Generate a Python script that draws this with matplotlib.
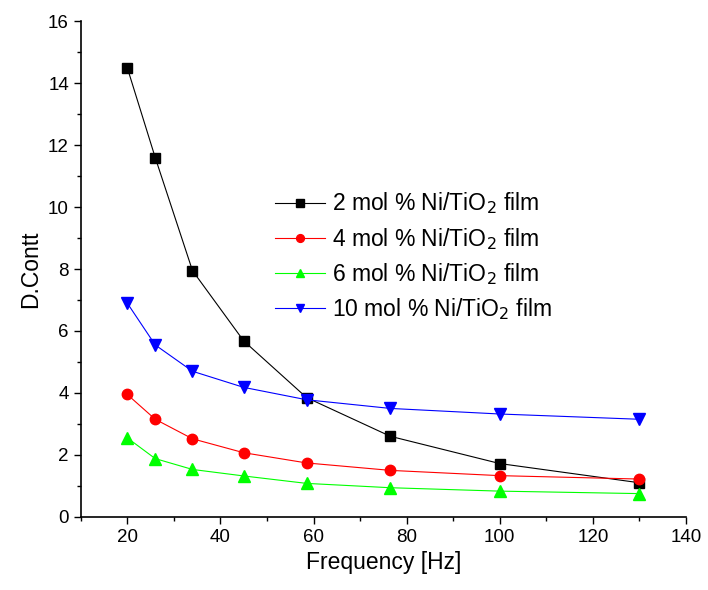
import numpy as np
import matplotlib
matplotlib.use("Agg")
from matplotlib import pyplot as plt
from matplotlib.ticker import MultipleLocator

plt.rcParams['font.family'] = ['Liberation Sans', 'DejaVu Sans']

# Data
freq = [20, 26, 34, 45, 58.5, 76.5, 100, 130]
ni2 = [14.5, 11.6, 7.95, 5.68, 3.85, 2.6, 1.72, 1.1]
ni4 = [3.95, 3.15, 2.52, 2.07, 1.74, 1.5, 1.33, 1.22]
ni6 = [2.55, 1.88, 1.53, 1.32, 1.08, 0.94, 0.83, 0.75]
ni10 = [6.9, 5.55, 4.7, 4.18, 3.78, 3.5, 3.32, 3.15]

labels = ['2 mol % Ni/TiO$_2$ film', '4 mol % Ni/TiO$_2$ film',
          '6 mol % Ni/TiO$_2$ film', '10 mol % Ni/TiO$_2$ film']

fig = plt.figure(figsize=(7.08, 5.9), dpi=100)
ax = fig.add_axes([0.114, 0.124, 0.855, 0.84])

ax.plot(freq, ni2, color='black', lw=0.8, marker='s', ms=7, label=labels[0])
ax.plot(freq, ni4, color='red', lw=0.8, marker='o', ms=7.5, label=labels[1])
ax.plot(freq, ni6, color='#00ff00', lw=0.8, marker='^', ms=8, label=labels[2])
ax.plot(freq, ni10, color='blue', lw=0.8, marker='v', ms=8, label=labels[3])

ax.set_xlim(10, 140)
ax.set_ylim(0, 16)
ax.xaxis.set_major_locator(MultipleLocator(20))
ax.xaxis.set_minor_locator(MultipleLocator(10))
ax.yaxis.set_major_locator(MultipleLocator(2))
ax.yaxis.set_minor_locator(MultipleLocator(1))
ax.tick_params(which='major', direction='out', length=5, width=1, labelsize=13.5)
ax.tick_params(which='minor', direction='out', length=3, width=1)

ax.spines['top'].set_visible(False)
ax.spines['right'].set_visible(False)
ax.spines['left'].set_linewidth(1.2)
ax.spines['bottom'].set_linewidth(1.2)

ax.set_xlabel('Frequency [Hz]', fontsize=16.5)
ax.set_ylabel('D.Contt', fontsize=16.5)

ax.legend(loc='upper left', bbox_to_anchor=(0.287, 0.70), frameon=False,
          fontsize=16.5, handlelength=2.2, labelspacing=0.4, handletextpad=0.3,
          markerscale=0.75)

fig.savefig('out.png', dpi=100)
